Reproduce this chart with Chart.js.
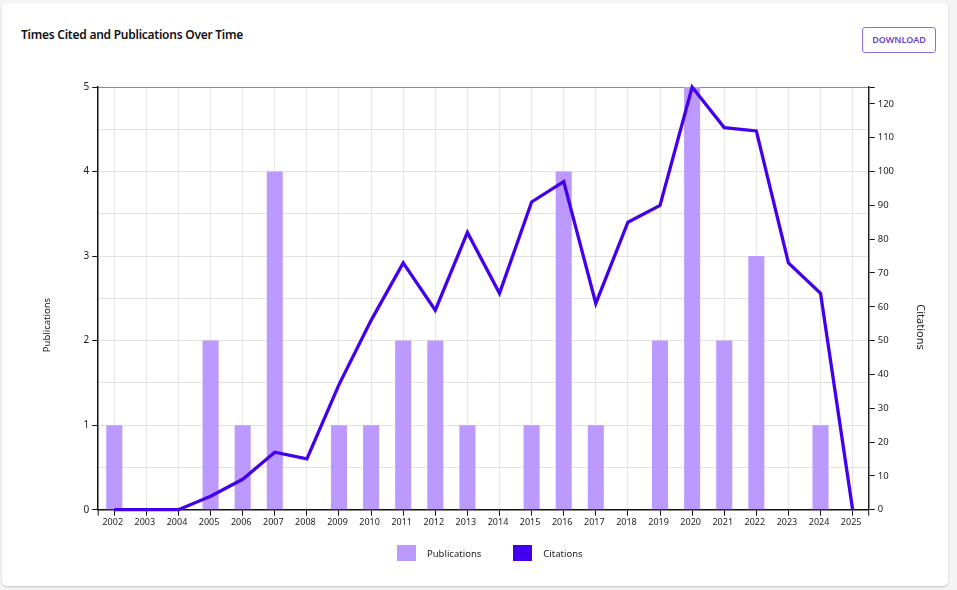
<!DOCTYPE html>
<html>
<head>
<meta charset="utf-8">
<title>Times Cited and Publications Over Time</title>
<script src="https://cdn.jsdelivr.net/npm/chart.js@4"></script>
<style>
  html, body { margin: 0; padding: 0; background: #f4f4f4; }
  body { width: 957px; height: 590px; overflow: hidden; position: relative; font-family: "Noto Sans", sans-serif; }
  .card { position: absolute; left: 2px; top: 3px; width: 946px; height: 583px; background: #fff; border-radius: 5px; box-shadow: 0 1px 2px rgba(0,0,0,0.2); }
  .title { position: absolute; left: 21px; top: 26px; font-size: 12px; font-weight: 600; letter-spacing: -0.25px; color: #111; line-height: 18px; white-space: nowrap; }
  .btn { position: absolute; left: 862px; top: 27px; width: 72px; height: 24px; border: 1px solid #8f6be0; border-radius: 3px; color: #6a3fd0; font-size: 9px; font-weight: 600; line-height: 24px; text-align: center; }
  #chart { position: absolute; left: 0; top: 0; }
  .legend { position: absolute; left: 397px; top: 545px; height: 16px; display: flex; align-items: center; font-size: 9.5px; color: #222; }
  .legend i { display: block; width: 19px; height: 16px; margin-right: 11px; }
  .legend span { margin-right: 32px; }
  /* axis titles sit below the axis middle in the reference, so they are placed by hand */
  .axis-title { position: absolute; width: 100px; height: 16px; line-height: 16px; text-align: center; color: #222; white-space: nowrap; }
  #pub-title { left: -3px; top: 317px; font-size: 9.5px; transform: rotate(-90deg); }
  #cite-title { left: 871px; top: 319px; font-size: 11px; transform: rotate(90deg); }
</style>
</head>
<body>
<div class="card"></div>
<div class="title">Times Cited and Publications Over Time</div>
<div class="btn">DOWNLOAD</div>
<canvas id="chart" width="957" height="590"></canvas>
<div class="axis-title" id="pub-title">Publications</div>
<div class="axis-title" id="cite-title">Citations</div>
<div class="legend" id="legend"></div>
<script>
const years = ['2002','2003','2004','2005','2006','2007','2008','2009','2010','2011','2012','2013','2014','2015','2016','2017','2018','2019','2020','2021','2022','2023','2024','2025'];
const publications = [1,0,0,2,1,4,0,1,1,2,2,1,0,1,4,1,0,2,5,2,3,0,1,0];
const citations = [0,0,0,4,9,17,15,37,56,73,59,82,64,91,97,61,85,90,125,113,112,73,64,0];
const pubTicks = [0,0.5,1,1.5,2,2.5,3,3.5,4,4.5,5];
const citeTicks = [0,10,20,30,40,50,60,70,80,90,100,110,120,125];

const FONT = '"Noto Sans", sans-serif';
const INK = '#222';

// the reference axis has little end ticks past the first and last category
const endTicks = {
  id: 'endTicks',
  afterDraw(chart) {
    const { ctx, chartArea: a } = chart;
    ctx.save();
    ctx.strokeStyle = '#111';
    ctx.lineWidth = 1;
    ctx.beginPath();
    [a.left, a.right].forEach(x => { ctx.moveTo(x, a.bottom); ctx.lineTo(x, a.bottom + 6); });
    ctx.stroke();
    ctx.restore();
  }
};

const chart = new Chart(document.getElementById('chart'), {
  type: 'bar',
  plugins: [endTicks],
  data: {
    labels: years,
    datasets: [
      {
        label: 'Publications',
        data: publications,
        backgroundColor: '#bb99ff',
        barPercentage: 0.5,
        categoryPercentage: 1,
        yAxisID: 'y',
        order: 2
      },
      {
        label: 'Citations',
        type: 'line',
        data: citations,
        borderColor: '#4400ee',
        backgroundColor: '#4400ee',
        borderWidth: 3.3,
        pointRadius: 0,
        tension: 0,
        clip: false,
        yAxisID: 'y1',
        order: 1
      }
    ]
  },
  options: {
    responsive: false,
    animation: false,
    devicePixelRatio: 1,
    layout: { padding: { left: 80.5, right: 60, top: 87, bottom: 61.5 } },
    plugins: {
      tooltip: { enabled: false },
      legend: { display: false }
    },
    scales: {
      x: {
        grid: { offset: false, color: '#e6e6e6', tickColor: '#111', tickLength: 6, lineWidth: 1 },
        border: { color: '#111', width: 1.5 },
        ticks: { color: INK, font: { family: FONT, size: 9 }, maxRotation: 0, autoSkip: false, padding: 1, labelOffset: -1.5 }
      },
      y: {
        position: 'left',
        min: 0,
        max: 5,
        afterBuildTicks: axis => { axis.ticks = pubTicks.map(value => ({ value })); },
        grid: {
          color: c => c.tick.value === 5 ? '#8a8a8a' : '#e2e2e2',
          tickColor: c => Number.isInteger(c.tick.value) ? '#111' : 'transparent',
          tickLength: 6
        },
        border: { color: '#111', width: 1.5 },
        ticks: {
          color: INK,
          font: { family: FONT, size: 10 },
          autoSkip: false,
          padding: 3,
          callback: v => Number.isInteger(v) ? v : ''
        }
      },
      y1: {
        position: 'right',
        min: 0,
        max: 125,
        afterBuildTicks: axis => { axis.ticks = citeTicks.map(value => ({ value })); },
        grid: { drawOnChartArea: false, tickColor: '#111', tickLength: 6 },
        border: { color: '#222', width: 1.5 },
        ticks: {
          color: INK,
          font: { family: FONT, size: 9.5 },
          autoSkip: false,
          padding: 3,
          callback: v => v === 125 ? '' : v
        }
      }
    }
  }
});

document.getElementById('legend').innerHTML = chart.data.datasets
  .map(d => `<i style="background:${d.backgroundColor}"></i><span>${d.label}</span>`)
  .join('');
</script>
</body>
</html>
